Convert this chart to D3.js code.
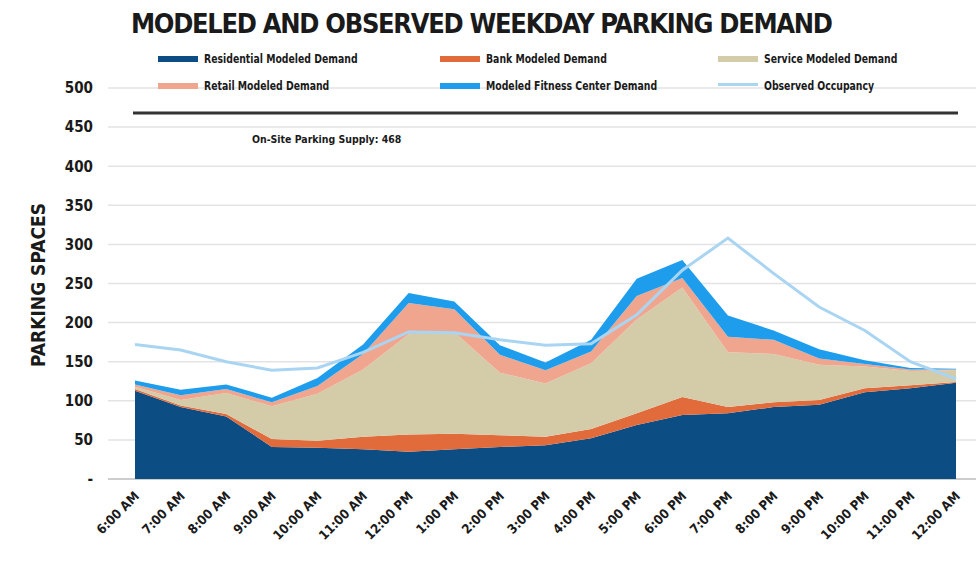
<!DOCTYPE html>
<html>
<head>
<meta charset="utf-8">
<script src="https://cdn.jsdelivr.net/npm/d3@7"></script>
<style>
  body { margin: 0; background: #fff; }
  text { font-family: "DejaVu Sans Condensed", "Liberation Sans Narrow", sans-serif; font-weight: bold; fill: #1a1a1a; }
</style>
</head>
<body>
<div id="chart"></div>
<script>
// Chart data
var hours = ["6:00 AM", "7:00 AM", "8:00 AM", "9:00 AM", "10:00 AM", "11:00 AM", "12:00 PM",
  "1:00 PM", "2:00 PM", "3:00 PM", "4:00 PM", "5:00 PM", "6:00 PM", "7:00 PM", "8:00 PM",
  "9:00 PM", "10:00 PM", "11:00 PM", "12:00 AM"];
var residential = [113, 92, 80, 41, 40, 38, 35, 38, 41, 43, 52, 69, 82, 84, 92, 95, 111, 116, 123];
var bank = [2, 2, 3, 10, 9, 16, 22, 20, 15, 11, 12, 15, 23, 8, 6, 6, 5, 4, 1];
var service = [3, 7, 27, 42, 60, 86, 128, 130, 80, 68, 84, 120, 140, 70, 62, 45, 28, 18, 15];
var retail = [3, 6, 5, 5, 10, 20, 40, 29, 23, 17, 15, 30, 12, 20, 18, 8, 3, 2, 1];
var fitness = [5, 7, 6, 6, 10, 12, 13, 10, 12, 10, 15, 22, 23, 27, 12, 12, 5, 2, 1];
var observed = [172, 165, 150, 139, 142, 162, 188, 187, 178, 171, 173, 210, 267, 308, 263, 220, 190, 150, 128];
var supply = 468;
var yTicks = [0, 50, 100, 150, 200, 250, 300, 350, 400, 450, 500];

var seriesKeys = ["residential", "bank", "service", "retail", "fitness"];
var seriesNames = {
  residential: "Residential Modeled Demand",
  bank: "Bank Modeled Demand",
  service: "Service Modeled Demand",
  retail: "Retail Modeled Demand",
  fitness: "Modeled Fitness Center Demand",
  observed: "Observed Occupancy"
};
var colors = {
  residential: "#0c4d84",
  bank: "#e26b3c",
  service: "#d4cba8",
  retail: "#f0a68e",
  fitness: "#1f9ded",
  observed: "#a9d5f2"
};

var svgWidth = 978;
var svgHeight = 570;

var svg = d3.select("#chart").append("svg")
  .attr("width", svgWidth)
  .attr("height", svgHeight);

// build rows for the stack
var rows = hours.map(function(h, i) {
  return {
    hour: h,
    residential: residential[i],
    bank: bank[i],
    service: service[i],
    retail: retail[i],
    fitness: fitness[i]
  };
});

var stacked = d3.stack().keys(seriesKeys)(rows);

var x = d3.scalePoint().domain(hours).range([135, 956]);
var y = d3.scaleLinear().domain([0, 500]).range([479, 88]);

// squeeze text a bit to look like the narrow font of the original
function condense(sel, k) {
  sel.each(function() {
    var w = this.getComputedTextLength();
    d3.select(this)
      .attr("textLength", w * k)
      .attr("lengthAdjust", "spacingAndGlyphs");
  });
}

// Title
svg.append("text")
  .attr("x", 131)
  .attr("y", 33)
  .attr("font-size", 27)
  .attr("textLength", 702)
  .attr("lengthAdjust", "spacing")
  .text("MODELED AND OBSERVED WEEKDAY PARKING DEMAND");

// Gridlines
svg.append("g")
  .selectAll("line")
  .data(yTicks)
  .enter()
  .append("line")
  .attr("x1", 108)
  .attr("x2", 976)
  .attr("y1", d => y(d))
  .attr("y2", d => y(d))
  .attr("stroke", d => d === 0 ? "#bdbdbd" : "#e3e3e3")
  .attr("stroke-width", 1.5);

// Y axis
var leftAxis = d3.axisLeft(y)
  .tickValues(yTicks)
  .tickSize(0)
  .tickPadding(0)
  .tickFormat(d => d === 0 ? "-" : d);

var yAxis = svg.append("g")
  .attr("transform", "translate(93, 0)")
  .call(leftAxis);
yAxis.select(".domain").remove();
yAxis.selectAll("text")
  .attr("font-size", 15)
  .attr("font-family", null)
  .style("fill", "#1a1a1a");

// Y title
svg.append("text")
  .attr("transform", "translate(45, 285) rotate(-90)")
  .attr("text-anchor", "middle")
  .attr("font-size", 19)
  .text("PARKING SPACES");

// Stacked areas
var area = d3.area()
  .x((d, i) => x(hours[i]))
  .y0(d => y(d[0]))
  .y1(d => y(d[1]));

svg.append("g")
  .selectAll("path")
  .data(stacked)
  .enter()
  .append("path")
  .attr("d", area)
  .attr("fill", d => colors[d.key]);

// Observed occupancy line
var line = d3.line()
  .x((d, i) => x(hours[i]))
  .y(d => y(d));

svg.append("path")
  .datum(observed)
  .attr("d", line)
  .attr("fill", "none")
  .attr("stroke", colors.observed)
  .attr("stroke-width", 3);

// Supply line
svg.append("line")
  .attr("x1", 133)
  .attr("x2", 958)
  .attr("y1", y(supply))
  .attr("y2", y(supply))
  .attr("stroke", "#333")
  .attr("stroke-width", 3);

svg.append("text")
  .attr("x", 252)
  .attr("y", 143)
  .attr("font-size", 11)
  .text("On-Site Parking Supply: " + supply)
  .call(condense, 0.95);

// X axis labels
svg.append("g")
  .selectAll("text")
  .data(hours)
  .enter()
  .append("text")
  .attr("transform", d => `translate(${x(d) + 5}, 497) rotate(-45)`)
  .attr("text-anchor", "end")
  .attr("font-size", 13)
  .text(d => d);

// Legend
var legendItems = ["residential", "bank", "service", "retail", "fitness", "observed"];
var legendCols = [158, 440, 718];
var legendRows = [59, 86];

var legend = svg.append("g")
  .selectAll("g")
  .data(legendItems)
  .enter()
  .append("g")
  .attr("transform", (d, i) => `translate(${legendCols[i % 3]}, ${legendRows[Math.floor(i / 3)]})`);

legend.append("rect")
  .attr("x", 0)
  .attr("y", -3)
  .attr("width", 40)
  .attr("height", d => d === "observed" ? 3 : 6)
  .attr("fill", d => colors[d]);

legend.append("text")
  .attr("x", 46)
  .attr("y", 4)
  .attr("font-size", 11.5)
  .text(d => seriesNames[d])
  .call(condense, 0.9);
</script>
</body>
</html>
